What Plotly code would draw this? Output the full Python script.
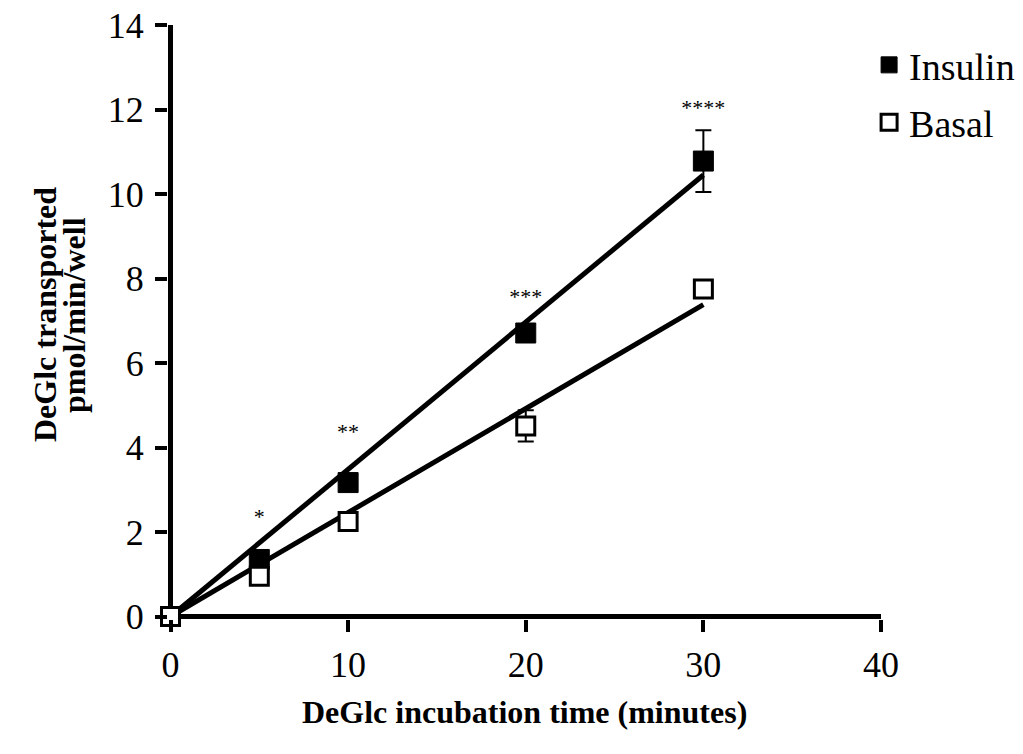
import plotly.graph_objects as go

# ---- data ----
time_min = [0, 5, 10, 20, 30]
insulin = [0.0, 1.35, 3.17, 6.71, 10.78]
insulin_err = [0, 0, 0, 0, 0.73]
basal = [0.0, 0.95, 2.25, 4.51, 7.75]
basal_err = [0, 0, 0, 0.37, 0]

fit_x = [0, 30]
insulin_fit = [0.0, 10.45]
basal_fit = [0.0, 7.38]

sig_x = [5, 10, 20, 30]
sig_labels = ["*", "**", "***", "****"]
sig_y = [2.33, 4.34, 7.52, 12.0]

x_ticks = [0, 10, 20, 30, 40]
y_ticks = [0, 2, 4, 6, 8, 10, 12, 14]

FONT = "Liberation Serif"
LW = 5  # axis line width

fig = go.Figure()

fig.add_trace(go.Scatter(x=fit_x, y=insulin_fit, mode="lines",
                         line=dict(color="black", width=5),
                         showlegend=False, hoverinfo="skip"))
fig.add_trace(go.Scatter(x=fit_x, y=basal_fit, mode="lines",
                         line=dict(color="black", width=5),
                         showlegend=False, hoverinfo="skip"))

fig.add_trace(go.Scatter(
    x=time_min, y=insulin, mode="markers", name="Insulin",
    marker=dict(symbol="square", size=20, color="black",
                line=dict(color="black", width=1)),
    error_y=dict(type="data", array=insulin_err, visible=True,
                 color="black", thickness=2, width=8),
    cliponaxis=False, legendgroup="a"))

fig.add_trace(go.Scatter(
    x=time_min, y=basal, mode="markers", name="Basal",
    marker=dict(symbol="square", size=18, color="white",
                line=dict(color="black", width=3)),
    error_y=dict(type="data", array=basal_err, visible=True,
                 color="black", thickness=2, width=8),
    cliponaxis=False, legendgroup="b"))

fig.add_trace(go.Scatter(
    x=sig_x, y=sig_y, mode="text", text=sig_labels,
    textposition="middle center",
    textfont=dict(family=FONT, size=22, color="black"),
    showlegend=False, hoverinfo="skip", cliponaxis=False))

# axes drawn as heavy zero lines so that the axis lines pass through data zero
axis_common = dict(
    showline=False, zeroline=True, zerolinewidth=LW, zerolinecolor="black",
    ticks="outside", ticklen=12, tickwidth=4, tickcolor="black",
    showgrid=False,
    tickfont=dict(family=FONT, size=36, color="black"),
)

fig.update_xaxes(range=[-0.1406, 40], tickvals=x_ticks, ticklabelstandoff=2,
                 **axis_common)
fig.update_yaxes(range=[-0.0591, 14], tickvals=y_ticks, ticklabelstandoff=4,
                 **axis_common)

fig.update_layout(
    width=1023, height=754,
    margin=dict(l=167.5, r=142, t=25, b=134.5, autoexpand=False),
    paper_bgcolor="white", plot_bgcolor="white",
    font=dict(family=FONT, color="black"),
    showlegend=True,
    legend=dict(x=0.9833, y=0.9854, xanchor="left", yanchor="top",
                font=dict(family=FONT, size=38, color="black"),
                bgcolor="rgba(0,0,0,0)", tracegroupgap=5,
                itemclick=False),
    annotations=[
        dict(text="<b>DeGlc incubation time (minutes)</b>",
             xref="paper", yref="paper", x=0.5, y=0,
             xanchor="center", yanchor="middle", yshift=-92.5,
             showarrow=False, font=dict(family=FONT, size=32, color="black")),
        dict(text="<b>DeGlc transported</b>",
             xref="paper", yref="paper", x=0, y=0.5,
             xanchor="center", yanchor="middle", xshift=-123, yshift=7,
             textangle=-90, showarrow=False,
             font=dict(family=FONT, size=32, color="black")),
        dict(text="<b>pmol/min/well</b>",
             xref="paper", yref="paper", x=0, y=0.5,
             xanchor="center", yanchor="middle", xshift=-94, yshift=7,
             textangle=-90, showarrow=False,
             font=dict(family=FONT, size=32, color="black")),
    ],
)

fig.write_html("out.html")
